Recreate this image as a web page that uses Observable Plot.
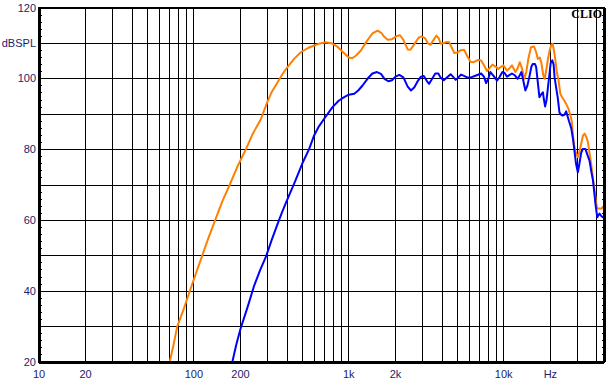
<!DOCTYPE html>
<html>
<head>
<meta charset="utf-8">
<script src="https://cdn.jsdelivr.net/npm/d3@7"></script>
<script src="https://cdn.jsdelivr.net/npm/@observablehq/plot@0.6"></script>
<style>
  html, body { margin: 0; padding: 0; background: #fff; }
  #chart { width: 610px; height: 384px; }
</style>
</head>
<body>
<div id="chart"></div>
<script>
// Orange curve (upper): frequency (Hz) and level (dB SPL)
const orangeFreq = [69.8,74,78,86,94,103,113,124,137,153,170,190,216,240,270,298,320,347,375,402,445,490,545,597,650,711,780,847,930,1000,1050,1110,1197,1300,1420,1535,1620,1700,1783,1900,2020,2140,2250,2400,2500,2650,2820,2950,3100,3250,3370,3500,3680,3800,3920,4100,4300,4450,4600,4800,5000,5300,5550,5800,6100,6400,6800,7150,7450,7800,8100,8450,8800,9230,9600,9950,10500,10900,11300,11900,12300,12700,13100,13600,14000,14400,15000,15700,16200,16600,17100,17500,18000,18400,18900,19300,19800,20300,20700,21100,21500,22000,22600,23200,23800,24500,25300,26200,26900,27500,28000,28600,29300,30100,30900,31600,32500,33300,34200,35000,35800,36700,37600,38600,39500,40200,41500,42700,43600,44400];
const orangeDb = [20,25,30,35,40,45,50,55,60,65.5,70,75,80,84.5,88.5,93.5,96.5,99,101.5,103.3,105.7,107.5,108.7,109.4,110,110.3,110,109,107.3,106,105.8,106.5,108,110.5,112.8,113.6,113,111.8,111,111.2,112,112.3,111,108.3,108.2,109.8,111.6,112,111.5,110,109.6,110.8,112.2,111.5,109.9,110.1,110.4,110.3,109,107.3,107.4,108.1,108.2,106.5,104.8,104.7,105.3,105.2,103.8,102.2,103,104,103.5,102.8,103.4,103.8,102.3,103,103.8,101.9,103,104.7,103,100,102,105.5,108.9,109.1,107.5,105.6,106,104.5,101,100,103,105.6,108,109.6,109.9,108,105.6,102,99.5,95.8,94.8,94,92.9,91.5,89.8,88,84,80.7,79,77.9,79.5,81.6,84,84.5,83.5,82,79,76,72,68.4,65,63.3,63.4,63.3,63.8,63.2];

// Blue curve (lower)
const blueFreq = [177,188,200,222,245,268,291,318,347,372,398,450,500,555,597,640,693,785,860,933,1000,1084,1150,1227,1320,1420,1520,1613,1700,1800,1900,2000,2118,2250,2400,2520,2650,2800,2920,3050,3200,3300,3450,3615,3785,3906,4100,4300,4540,4700,4900,5100,5300,5500,5800,6150,6500,7150,7450,7700,7950,8200,8600,9050,9400,9800,10100,10500,11300,11800,12300,12700,13000,13300,13800,14200,14700,15100,15400,15900,16200,16600,17000,17400,17900,18200,18500,18900,19300,19700,20100,20600,21000,21300,21800,22300,22900,23500,24000,24600,25300,25800,26400,27300,28000,28600,29300,30100,30800,31600,32400,33700,34700,35800,36700,37700,38400,39100,39700,40200,40900,41600,42500,43600,44400];
const blueDb = [20,25,29.4,35.5,41.6,46,49.6,54.5,59,62.5,65.6,71,76,80.2,84,86.5,88.7,92,93.8,94.8,95.5,95.8,96.7,98.1,100,101.5,101.9,101.4,100,99.3,99.6,100.6,101.1,100.4,97.8,96.7,97.6,99.5,100.6,100.8,99.3,98.6,100,101.5,101.5,100.4,99.6,100.4,101.3,100.6,99.7,100.4,101.2,100.9,100.4,100.4,100.8,101.5,100.6,98.8,100,101.9,100.8,99.5,100.5,101.9,101.7,100.6,101.5,101,100,101,101.9,100,96.7,98,100.9,103.5,104.2,104.2,103.3,99,94.8,95.5,96.2,94,92.2,94,97.6,101,104.5,105.2,104,100.4,97.5,94.8,90.5,89.8,89.6,89.8,90.8,89.5,88,86,83,79.7,76,73.6,76,79,80.2,80.2,78.5,76.9,74,71.3,68,64.7,62.5,60.9,61.5,61.9,61.3,60.9,61.2];

// Axes / grid values
const xDomain = [10, 44400];
const yDomain = [20, 120];
const xGrid = [20,30,40,50,60,70,80,90,100,200,300,400,500,600,700,800,900,1000,2000,3000,4000,5000,6000,7000,8000,9000,10000,20000,30000,40000];
const yGrid = [30,40,50,60,70,80,90,100,110];
const yMinor = d3.range(20, 121, 2);
const xTickValues = [10,20,50,100,200,500,1000,2000,5000,10000,20000,40000];
const xTickLabels = ["10","20","50","100","200","500","1k","2k","5k","10k","Hz","40k"];
const yTickValues = [20,40,60,80,100,110,120];
const yTickLabels = ["20","40","60","80","100","dBSPL","120"];
const brand = ["CLIO"];

const orange = orangeFreq.map((f, i) => ({f, db: orangeDb[i]}));
const blue = blueFreq.map((f, i) => ({f, db: blueDb[i]}));

const labelColor = "#1c1c6c";
const font = "'Liberation Sans', Arial, sans-serif";

const chart = Plot.plot({
  width: 610,
  height: 384,
  marginLeft: 38.5,
  marginRight: 6.5,
  marginTop: 7.5,
  marginBottom: 22.5,
  style: {background: "#fff", fontFamily: font, fontSize: "11px", overflow: "visible"},
  x: {type: "log", domain: xDomain},
  y: {type: "linear", domain: yDomain},
  marks: [
    Plot.ruleX(xGrid, {stroke: "#000", strokeWidth: 1, shapeRendering: "crispEdges"}),
    Plot.ruleY(yGrid, {stroke: "#000", strokeWidth: 1, shapeRendering: "crispEdges"}),
    Plot.axisY(yMinor, {anchor: "left", tickSize: 3, dx: 3, text: null, label: null, stroke: "#000", shapeRendering: "crispEdges"}),
    Plot.axisY(yMinor, {anchor: "right", tickSize: 3, dx: -3, text: null, label: null, stroke: "#000", shapeRendering: "crispEdges"}),
    Plot.line(orange, {x: "f", y: "db", stroke: "#ff8000", strokeWidth: 2, clip: true}),
    Plot.line(blue, {x: "f", y: "db", stroke: "#0000ff", strokeWidth: 2, clip: true}),
    Plot.frame({stroke: "#000", strokeWidth: 2, shapeRendering: "crispEdges"}),
    Plot.ruleX([xDomain[0]], {stroke: "#000", strokeWidth: 3, shapeRendering: "crispEdges"}),
    Plot.ruleX([xDomain[1]], {stroke: "#000", strokeWidth: 3, shapeRendering: "crispEdges"}),
    Plot.ruleY([yDomain[0]], {stroke: "#000", strokeWidth: 3, shapeRendering: "crispEdges"}),
    Plot.axisX(xTickValues, {anchor: "bottom", tickSize: 0, tickPadding: 8, label: null,
      tickFormat: d => xTickLabels[xTickValues.indexOf(d)], fill: labelColor, fontSize: 11}),
    Plot.axisY(yTickValues, {anchor: "left", tickSize: 0, tickPadding: 3, label: null,
      tickFormat: d => yTickLabels[yTickValues.indexOf(d)], fill: labelColor, fontSize: 11}),
    Plot.text(brand, {frameAnchor: "top-right", dx: -2, dy: 1, lineAnchor: "top", textAnchor: "end",
      fontWeight: "bold", fontFamily: "'Liberation Serif', 'DejaVu Serif', serif", fontSize: 12, fill: "#000"})
  ]
});
document.getElementById("chart").appendChild(chart);
</script>
</body>
</html>
